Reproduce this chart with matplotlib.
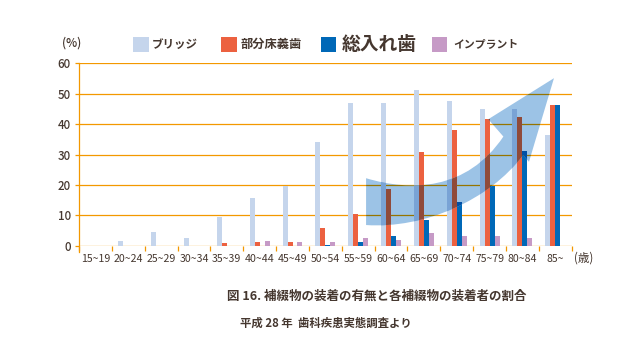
import numpy as np
import matplotlib
matplotlib.use('Agg')
import matplotlib.pyplot as plt
from matplotlib.path import Path
from matplotlib.patches import PathPatch, Rectangle
from matplotlib.colors import to_rgb

plt.rcParams['font.family'] = ['Noto Sans CJK JP', 'DejaVu Sans']

# data (%)
age_groups = ['15~19', '20~24', '25~29', '30~34', '35~39', '40~44', '45~49', '50~54',
              '55~59', '60~64', '65~69', '70~74', '75~79', '80~84', '85~']
bridge = [0, 1.5, 4.4, 2.6, 9.6, 15.8, 19.7, 34.1, 47.0, 46.8, 51.2, 47.6, 45.0, 44.9, 36.4]
partial = [0, 0, 0, 0, 0.9, 1.1, 1.1, 5.7, 10.4, 18.5, 30.8, 38.1, 41.6, 42.3, 46.3]
complete = [0, 0, 0, 0, 0, 0, 0, 0.3, 1.3, 3.3, 8.5, 14.4, 19.6, 31.3, 46.3]
implant = [0, 0, 0, 0, 0, 1.6, 1.1, 1.1, 2.4, 1.9, 4.2, 3.2, 3.1, 2.6, 0]

series = [bridge, partial, complete, implant]
labels = ['ブリッジ', '部分床義歯', '総入れ歯', 'インプラント']
colors = ['#c5d5ec', '#ec6140', '#0068b7', '#c69ac6']
yticks = [0, 10, 20, 30, 40, 50, 60]

text_col = '#45372f'
orange = '#f39800'
arrow_col = '#9cc3e6'


def mult(c):
    a = np.array(to_rgb(c))
    b = np.array(to_rgb(arrow_col))
    return tuple(a * b)


W, H = 640, 360
fig = plt.figure(figsize=(6.4, 3.6), dpi=100)
ax = fig.add_axes([79 / W, 1 - 245.7 / H, (571.7 - 79) / W, (245.7 - 63.3) / H])
ax.set_xlim(-0.5, len(age_groups) - 0.5)
ax.set_ylim(0, 60)
for s in ax.spines.values():
    s.set_visible(False)

x = np.arange(len(age_groups))
bw = 0.152
offs = [-1.5, -0.5, 0.5, 1.5]

# grid lines
ax.hlines(yticks, -0.5, len(age_groups) - 0.5, color=orange, lw=0.9, zorder=1)
ax.plot([-0.5, -0.5], [-2.2, 60], color=orange, lw=0.9, clip_on=False, zorder=1)

bars = []
for vals, c, o in zip(series, colors, offs):
    bars.append(ax.bar(x + o * bw, vals, bw, color=c, lw=0, zorder=2))

# big curved arrow (decoration)
verts = [(8.24, 22.2),
         (9.6, 17.8), (11.3, 18.0), (12.42, 35.9),
         (11.96, 41.6),
         (13.96, 55.1),
         (13.2, 27.6),
         (13.02, 29.8),
         (12.0, 15.0), (10.0, 5.5), (8.24, 6.8),
         (8.24, 22.2)]
codes = [Path.MOVETO,
         Path.CURVE4, Path.CURVE4, Path.CURVE4,
         Path.LINETO, Path.LINETO, Path.LINETO, Path.LINETO,
         Path.CURVE4, Path.CURVE4, Path.CURVE4,
         Path.CLOSEPOLY]
arrow = PathPatch(Path(verts, codes), facecolor=arrow_col, edgecolor='none', zorder=3)
ax.add_patch(arrow)

# multiply-blend look: redraw things under the arrow with darkened colours
hl = ax.hlines(yticks, -0.5, len(age_groups) - 0.5, color=mult(orange), lw=0.9, zorder=3.5)
hl.set_clip_path(arrow)
for vals, c, o in zip(series, colors, offs):
    bc = ax.bar(x + o * bw, vals, bw, color=mult(c), lw=0, zorder=4)
    for p in bc:
        p.set_clip_path(arrow)

# ticks
ax.set_yticks(yticks)
ax.set_yticklabels([str(v) for v in yticks], fontsize=8.3, color=text_col, fontweight='medium')
ax.tick_params(axis='y', length=3, width=0.9, color=orange, pad=3)
ax.set_xticks(x)
ax.set_xticklabels(age_groups, fontsize=7.6, color=text_col)
ax.set_xticks(np.arange(-0.5, len(age_groups)), minor=True)
ax.tick_params(axis='x', which='major', length=0, pad=6)
ax.tick_params(axis='x', which='minor', length=3.5, width=0.9, color=orange)

fig.text(72 / W, 1 - 43 / H, '(%)', fontsize=8.5, color=text_col, ha='center', va='center',
         fontweight='medium')
fig.text(584 / W, 1 - 258 / H, '(歳)', fontsize=8.3, color=text_col, ha='center', va='center')

# legend
sq_x = [133, 221, 320.5, 431.5]
txt_x = [152, 241, 342, 453]
sizes = [8.3, 8.8, 13.5, 7.8]
for sx, tx, lab, c, fs in zip(sq_x, txt_x, labels, colors, sizes):
    fig.patches.append(Rectangle((sx / W, 1 - 52 / H), 15.5 / W, 15.5 / H,
                                 transform=fig.transFigure, color=c, lw=0))
    fig.text(tx / W, 1 - 44 / H, lab, fontsize=fs, fontweight='bold', color=text_col,
             ha='left', va='center')

fig.text(377 / W, 1 - 296 / H, '図 16. 補綴物の装着の有無と各補綴物の装着者の割合',
         fontsize=9, fontweight='bold', color=text_col, ha='center', va='center')
fig.text(326 / W, 1 - 323.5 / H, '平成 28 年  歯科疾患実態調査より',
         fontsize=8.2, fontweight='bold', color=text_col, ha='center', va='center')

fig.savefig('out.png', dpi=100)
